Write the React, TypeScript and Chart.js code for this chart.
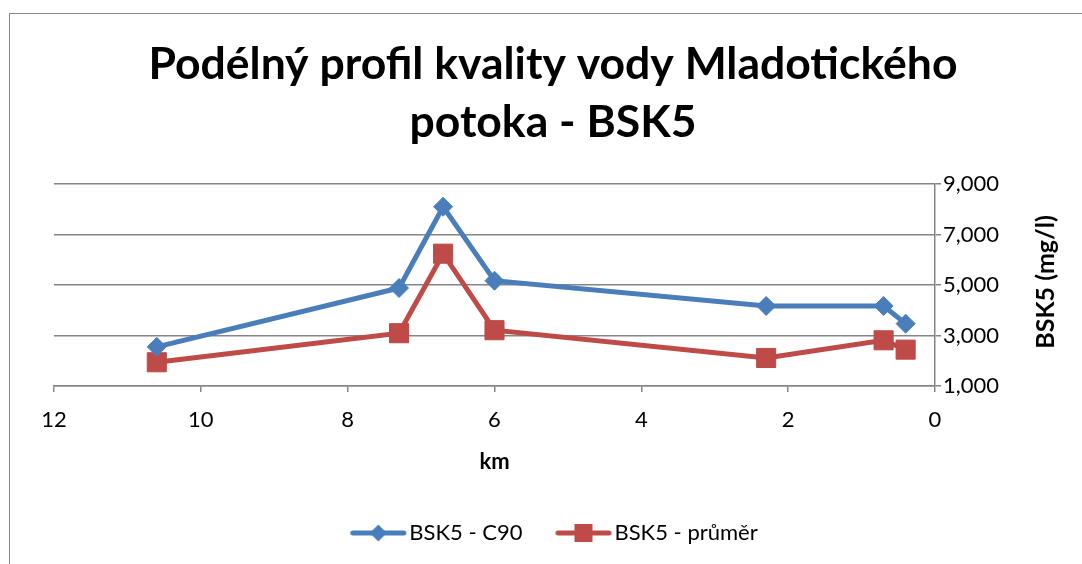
import React, { useEffect, useRef } from 'react';
import { Chart, registerables } from 'chart.js';

Chart.register(...registerables);

// ---- data ----
const km = [10.6, 7.3, 6.7, 6.0, 2.3, 0.7, 0.4];
const bskC90 = [2550, 4880, 8100, 5170, 4170, 4170, 3470];
const bskMean = [1940, 3090, 6240, 3210, 2110, 2810, 2440];
const seriesLabels = ['BSK5 - C90', 'BSK5 - průměr'];
const titleLines = ['Podélný profil kvality vody Mladotického', 'potoka - BSK5'];
const xTitle = 'km';
const yTitle = 'BSK5 (mg/l)';

const BLUE = '#4A7EBB';
const RED = '#BE4B48';
const GRID = '#868686';
const FONT = 'Lato';

function makeLegendImage(color: string, style: 'diamond' | 'square') {
  const c = document.createElement('canvas');
  c.width = 68;
  c.height = 24;
  const ctx = c.getContext('2d')!;
  ctx.strokeStyle = color;
  ctx.lineWidth = 5;
  ctx.lineCap = 'round';
  ctx.beginPath();
  ctx.moveTo(13.5, 12);
  ctx.lineTo(64.5, 12);
  ctx.stroke();
  ctx.fillStyle = color;
  const cx = 39;
  const cy = 12;
  if (style === 'diamond') {
    ctx.beginPath();
    ctx.moveTo(cx, cy - 8.5);
    ctx.lineTo(cx + 8.5, cy);
    ctx.lineTo(cx, cy + 8.5);
    ctx.lineTo(cx - 8.5, cy);
    ctx.closePath();
    ctx.fill();
  } else {
    ctx.fillRect(cx - 9, cy - 9, 18, 18);
  }
  return c;
}

const yTitlePlugin = {
  id: 'yTitleLeftRot',
  afterDraw(chart: any) {
    const { ctx, chartArea } = chart;
    const ys = chart.scales.y;
    ctx.save();
    ctx.font = `bold 25px ${FONT}`;
    ctx.fillStyle = '#000';
    ctx.textAlign = 'center';
    ctx.textBaseline = 'alphabetic';
    ctx.translate(ys.right + 2, (chartArea.top + chartArea.bottom) / 2 - 3);
    ctx.rotate(-Math.PI / 2);
    ctx.fillText(yTitle, 0, 0);
    ctx.restore();
  },
};

export default function App() {
  const canvasRef = useRef<HTMLCanvasElement | null>(null);

  useEffect(() => {
    const canvas = canvasRef.current;
    if (!canvas) return;
    const legendImgs = [makeLegendImage(BLUE, 'diamond'), makeLegendImage(RED, 'square')];

    const chart = new Chart(canvas, {
      type: 'line',
      data: {
        datasets: [
          {
            label: seriesLabels[0],
            data: km.map((x, i) => ({ x, y: bskC90[i] })),
            borderColor: BLUE,
            backgroundColor: BLUE,
            borderWidth: 5,
            pointStyle: 'rectRot',
            pointRadius: 9.5,
            pointBorderWidth: 1,
            pointBackgroundColor: BLUE,
            pointBorderColor: BLUE,
            tension: 0,
          },
          {
            label: seriesLabels[1],
            data: km.map((x, i) => ({ x, y: bskMean[i] })),
            borderColor: RED,
            backgroundColor: RED,
            borderWidth: 5,
            pointStyle: 'rect',
            pointRadius: 13.5,
            pointBorderWidth: 1,
            pointBackgroundColor: RED,
            pointBorderColor: RED,
            tension: 0,
          },
        ],
      },
      options: {
        animation: false,
        responsive: false,
        devicePixelRatio: 1,
        color: '#000',
        layout: { padding: { left: 54, right: 30, top: 0, bottom: 10 } },
        plugins: {
          title: {
            display: true,
            text: titleLines,
            color: '#000',
            font: { family: FONT, size: 44.5, weight: 'bold', lineHeight: '58px' },
            padding: { top: 36, bottom: 32 },
          },
          legend: {
            display: true,
            position: 'bottom',
            labels: {
              usePointStyle: true,
              pointStyleWidth: 50,
              padding: 31,
              color: '#000',
              font: { family: FONT, size: 22 },
              generateLabels: (ch: any) =>
                ch.data.datasets.map((ds: any, i: number) => ({
                  text: ds.label,
                  pointStyle: legendImgs[i],
                  fillStyle: ds.borderColor,
                  strokeStyle: ds.borderColor,
                  lineWidth: 0,
                  hidden: false,
                  datasetIndex: i,
                  fontColor: '#000',
                })),
            },
          },
          tooltip: { enabled: false },
        },
        scales: {
          x: {
            type: 'linear',
            reverse: true,
            min: 0,
            max: 12,
            ticks: { stepSize: 2, padding: 15, color: '#000', font: { family: FONT, size: 22 } },
            grid: { display: true, drawOnChartArea: false, drawTicks: true, tickLength: 6, color: GRID, lineWidth: 1.5 },
            border: { display: true, color: GRID, width: 1.5 },
            title: {
              display: true,
              text: xTitle,
              color: '#000',
              font: { family: FONT, size: 22, weight: 'bold' },
              padding: { top: 10, bottom: 16 },
            },
            afterFit: (s: any) => {
              s.height = 105;
            },
          },
          y: {
            type: 'linear',
            position: 'right',
            min: 1000,
            max: 9000,
            ticks: {
              stepSize: 2000,
              padding: 2,
              color: '#000',
              font: { family: FONT, size: 22 },
              callback: (v: any) => Number(v).toLocaleString('en-US'),
            },
            grid: { display: true, drawOnChartArea: true, drawTicks: true, tickLength: 6, color: GRID, lineWidth: 1.5 },
            border: { display: true, color: GRID, width: 1.5 },
            afterFit: (s: any) => {
              s.width = 117;
            },
          },
        },
      },
      plugins: [yTitlePlugin],
    } as any);

    return () => {
      chart.destroy();
    };
  }, []);

  return (
    <div
      style={{
        position: 'fixed',
        left: 0,
        top: 0,
        width: 1082,
        height: 564,
        overflow: 'hidden',
        background: '#fff',
      }}
    >
      <div
        style={{
          position: 'absolute',
          left: 9,
          top: 13,
          width: 1200,
          height: 700,
          border: '1px solid #888',
          boxSizing: 'border-box',
        }}
      />
      <canvas
        ref={canvasRef}
        width={1082}
        height={564}
        style={{ position: 'absolute', left: 0, top: 0, width: 1082, height: 564 }}
      />
    </div>
  );
}
